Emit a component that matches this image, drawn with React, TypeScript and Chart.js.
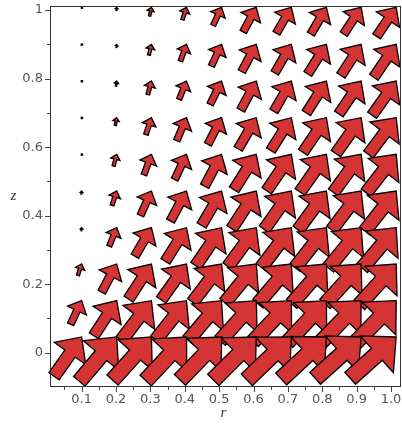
import React, { useEffect, useRef } from "react";
import { Chart, registerables } from "chart.js";

Chart.register(...registerables);

// Grid of arrow tips
const rGrid = [0.1, 0.202, 0.303, 0.405, 0.507, 0.608, 0.71, 0.812, 0.913, 1.015];
// rows, from top (z≈1) to bottom
const zGrid = [1.008, 0.9, 0.793, 0.686, 0.579, 0.472, 0.365, 0.259, 0.152, 0.046];

// arrow magnitude (axis units × 100), rows top → bottom, columns left → right
const magRows = [
  [0.3, 0.9, 2.6, 3.8, 5.8, 8.1, 8.7, 9.0, 9.3, 10.2],
  [0.3, 0.9, 3.2, 5.2, 7.0, 9.0, 9.6, 10.2, 10.8, 11.6],
  [0.3, 1.5, 4.1, 5.8, 7.6, 9.6, 10.2, 11.0, 11.6, 12.2],
  [0.6, 2.3, 5.2, 7.3, 8.7, 10.5, 11.3, 12.2, 12.8, 13.4],
  [0.6, 3.5, 6.4, 8.1, 10.5, 12.2, 12.8, 13.4, 13.7, 14.2],
  [0.9, 4.4, 7.8, 9.9, 11.6, 13.1, 13.7, 14.0, 14.2, 14.8],
  [0.9, 5.8, 9.6, 11.6, 13.4, 14.0, 14.5, 14.8, 15.1, 15.4],
  [3.5, 9.3, 12.2, 12.8, 14.0, 14.5, 15.1, 15.4, 15.7, 16.0],
  [7.6, 12.2, 14.5, 14.5, 15.1, 15.7, 16.3, 16.6, 16.9, 17.2],
  [14.0, 16.9, 16.9, 17.4, 17.4, 17.7, 18.0, 18.0, 18.0, 18.0],
];

// arrow direction (degrees from the r axis), rows top → bottom
const angRows = [
  [90, 85, 78, 72, 65, 62, 60, 60, 57, 56],
  [90, 85, 77, 70, 65, 62, 60, 58, 57, 56],
  [90, 82, 75, 68, 64, 62, 60, 58, 56, 55],
  [90, 80, 72, 67, 63, 60, 58, 56, 55, 53],
  [88, 75, 70, 65, 62, 58, 56, 55, 54, 52],
  [85, 72, 66, 62, 60, 57, 55, 54, 53, 52],
  [85, 68, 60, 58, 56, 54, 53, 52, 51, 50],
  [72, 62, 57, 55, 53, 51, 50, 49, 48, 48],
  [65, 57, 53, 52, 50, 48, 47, 47, 46, 46],
  [55, 50, 48, 47, 46, 45, 44, 43, 42, 42],
];

const xTicks = [0.1, 0.2, 0.3, 0.4, 0.5, 0.6, 0.7, 0.8, 0.9, 1.0];
const xTickLabels = ["0.1", "0.2", "0.3", "0.4", "0.5", "0.6", "0.7", "0.8", "0.9", "1.0"];
const xMinorTicks = [0.05, 0.15, 0.25, 0.35, 0.45, 0.55, 0.65, 0.75, 0.85, 0.95];
const yTicks = [0, 0.2, 0.4, 0.6, 0.8, 1];
const yTickLabels = ["0", "0.2", "0.4", "0.6", "0.8", "1"];
const yMinorTicks = [0.1, 0.3, 0.5, 0.7, 0.9];
const xRange = [0.008, 1.029];
const yRange = [-0.1, 1.012];
const xTitle = "r";
const yTitle = "z";

function drawArrow(ctx: CanvasRenderingContext2D, bx: number, by: number, tx: number, ty: number) {
  const dx = tx - bx;
  const dy = ty - by;
  const L = Math.hypot(dx, dy);
  if (L < 3) {
    ctx.fillStyle = "#000";
    ctx.fillRect(tx - 1, ty - 1, 2.5, 2.5);
    return;
  }
  const ux = dx / L, uy = dy / L;
  const nx = -uy, ny = ux;
  const sh = 0.13 * L, hl = 0.42 * L, hh = 0.4 * L;
  const neckX = bx + ux * (L - hl), neckY = by + uy * (L - hl);
  const pts: [number, number][] = [
    [bx + nx * sh, by + ny * sh],
    [neckX + nx * sh, neckY + ny * sh],
    [neckX + nx * hh, neckY + ny * hh],
    [tx, ty],
    [neckX - nx * hh, neckY - ny * hh],
    [neckX - nx * sh, neckY - ny * sh],
    [bx - nx * sh, by - ny * sh],
  ];
  ctx.beginPath();
  ctx.moveTo(pts[0][0], pts[0][1]);
  for (let k = 1; k < pts.length; k++) ctx.lineTo(pts[k][0], pts[k][1]);
  ctx.closePath();
  ctx.fillStyle = "#d43434";
  ctx.fill();
  ctx.lineWidth = 1.3;
  ctx.lineJoin = "miter";
  ctx.strokeStyle = "#000";
  ctx.stroke();
}

const arrowPlugin = {
  id: "arrowField",
  afterDatasetsDraw(chart: any) {
    const { ctx } = chart;
    const x = chart.scales.x;
    const y = chart.scales.y;
    ctx.save();
    for (let j = 0; j < zGrid.length; j++) {
      for (let i = 0; i < rGrid.length; i++) {
        const m = magRows[j][i] / 100;
        const a = (angRows[j][i] * Math.PI) / 180;
        const tx = x.getPixelForValue(rGrid[i]);
        const ty = y.getPixelForValue(zGrid[j]);
        const bx = x.getPixelForValue(rGrid[i] - m * Math.cos(a));
        const by = y.getPixelForValue(zGrid[j] - m * Math.sin(a));
        drawArrow(ctx, bx, by, tx, ty);
      }
    }
    ctx.restore();
  },
  afterDraw(chart: any) {
    const { ctx, chartArea } = chart;
    const x = chart.scales.x;
    const y = chart.scales.y;
    const { left, right, top, bottom } = chartArea;
    ctx.save();
    ctx.lineWidth = 1;
    ctx.strokeStyle = "#333";
    ctx.strokeRect(left + 0.5, top + 0.5, right - left - 1, bottom - top - 1);
    ctx.strokeStyle = "#444";
    ctx.beginPath();
    const xb = bottom;
    for (const v of xTicks) {
      const px = Math.round(x.getPixelForValue(v)) + 0.5;
      ctx.moveTo(px, xb);
      ctx.lineTo(px, xb + 5);
    }
    for (const v of xMinorTicks) {
      const px = Math.round(x.getPixelForValue(v)) + 0.5;
      ctx.moveTo(px, xb);
      ctx.lineTo(px, xb + 3);
    }
    for (const v of yTicks) {
      const py = Math.round(y.getPixelForValue(v)) + 0.5;
      ctx.moveTo(left, py);
      ctx.lineTo(left - 5, py);
    }
    for (const v of yMinorTicks) {
      const py = Math.round(y.getPixelForValue(v)) + 0.5;
      ctx.moveTo(left, py);
      ctx.lineTo(left - 3, py);
    }
    ctx.stroke();
    ctx.fillStyle = "#333";
    ctx.font = "italic 15px 'Liberation Serif'";
    ctx.textAlign = "center";
    ctx.textBaseline = "middle";
    ctx.fillText(xTitle, (left + right) / 2 - 2, 413);
    ctx.fillText(yTitle, 13.5, (top + bottom) / 2);
    ctx.restore();
  },
};

export default function App() {
  const canvasRef = useRef<HTMLCanvasElement | null>(null);

  useEffect(() => {
    const canvas = canvasRef.current;
    if (!canvas) return;
    const points: { x: number; y: number }[] = [];
    for (let j = 0; j < zGrid.length; j++)
      for (let i = 0; i < rGrid.length; i++) points.push({ x: rGrid[i], y: zGrid[j] });

    const tickFont = { family: "'DejaVu Sans'", size: 13 };
    const chart = new Chart(canvas, {
      type: "scatter",
      data: { datasets: [{ data: points, pointRadius: 0, showLine: false }] },
      options: {
        responsive: false,
        animation: false,
        devicePixelRatio: 1,
        events: [],
        layout: { padding: { top: 6, right: 1, left: 0, bottom: 0 } },
        plugins: { legend: { display: false }, tooltip: { enabled: false } },
        scales: {
          x: {
            type: "linear",
            min: xRange[0],
            max: xRange[1],
            grid: { display: false, drawTicks: true, tickLength: 5 },
            border: { display: false },
            ticks: {
              autoSkip: false,
              maxRotation: 0,
              padding: 0,
              color: "#555",
              font: tickFont,
              callback: (_v: any, i: number) => xTickLabels[i],
            },
            afterBuildTicks: (s: any) => {
              s.ticks = xTicks.map((v) => ({ value: v }));
            },
            afterFit: (s: any) => {
              s.height = 39;
              s.paddingLeft = 0;
              s.paddingRight = 0;
            },
          },
          y: {
            type: "linear",
            min: yRange[0],
            max: yRange[1],
            grid: { display: false, drawTicks: true, tickLength: 5 },
            border: { display: false },
            ticks: {
              autoSkip: false,
              padding: 2,
              color: "#555",
              font: tickFont,
              callback: (_v: any, i: number) => yTickLabels[i],
            },
            afterBuildTicks: (s: any) => {
              s.ticks = yTicks.map((v) => ({ value: v }));
            },
            afterFit: (s: any) => {
              s.width = 50;
              s.paddingTop = 0;
              s.paddingBottom = 0;
            },
          },
        },
      } as any,
      plugins: [arrowPlugin],
    });
    return () => chart.destroy();
  }, []);

  return (
    <div style={{ position: "absolute", left: 0, top: 0, width: 402, height: 426, background: "#fff" }}>
      <canvas ref={canvasRef} width={402} height={426} style={{ display: "block" }} />
    </div>
  );
}
